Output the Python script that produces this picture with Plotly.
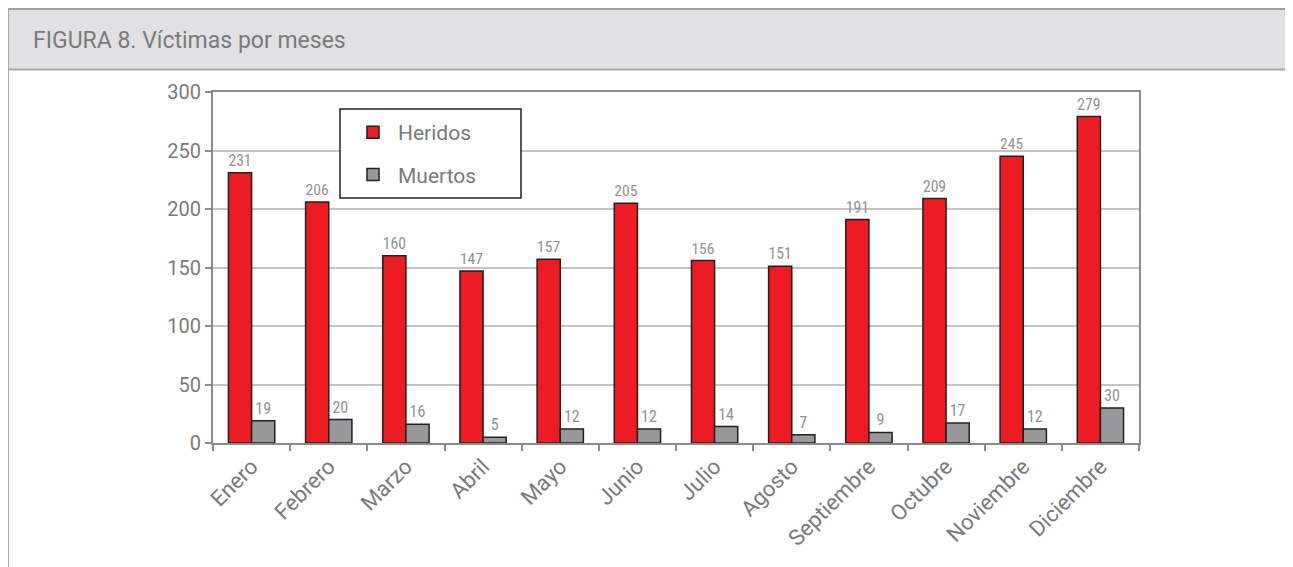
import plotly.graph_objects as go

months = ["Enero", "Febrero", "Marzo", "Abril", "Mayo", "Junio", "Julio",
          "Agosto", "Septiembre", "Octubre", "Noviembre", "Diciembre"]
heridos = [231, 206, 160, 147, 157, 205, 156, 151, 191, 209, 245, 279]
muertos = [19, 20, 16, 5, 12, 12, 14, 7, 9, 17, 12, 30]

W, H = 1293, 567
OFF = 8  # page body margin
# plot-area edges in screenshot pixels
L, R, T, B = 213, 1139, 92, 443


def px(x):
    return (x - L) / (R - L)


def py(y):
    return (B - y) / (B - T)


label_font = dict(family="Liberation Sans Narrow, Roboto Condensed, Roboto, sans-serif",
                  size=16, color="#929292")
ytick_font = dict(family="Roboto, DejaVu Sans, sans-serif", size=20, color="#7a7a7a")
xtick_font = dict(family="Roboto, DejaVu Sans, sans-serif", size=22, color="#7a7a7a")

fig = go.Figure()
fig.add_trace(go.Bar(
    x=months, y=heridos, name="Heridos", legendgroup="h",
    marker=dict(color="#ed1c24", line=dict(color="#231f20", width=1.5)),
    text=heridos, textposition="outside", textfont=label_font, cliponaxis=False,
))
fig.add_trace(go.Bar(
    x=months, y=muertos, name="Muertos", legendgroup="m",
    marker=dict(color="#98989c", line=dict(color="#231f20", width=1.5)),
    text=muertos, textposition="outside", textfont=label_font, cliponaxis=False,
))

line_col = "#8c8c8c"
shapes = [
    dict(type="rect", xref="paper", yref="paper", x0=px(7), x1=px(1292), y0=py(70), y1=py(8),
         fillcolor="#e1e1e3", line=dict(width=0), layer="below"),
    dict(type="line", xref="paper", yref="paper", x0=px(7), x1=px(1292), y0=py(9), y1=py(9),
         line=dict(color="#a0a0a0", width=2)),
    dict(type="line", xref="paper", yref="paper", x0=px(7), x1=px(1292), y0=py(69.5), y1=py(69.5),
         line=dict(color="#a8a8a8", width=2)),
    dict(type="line", xref="paper", yref="paper", x0=px(8), x1=px(8), y0=py(8), y1=py(570),
         line=dict(color="#a8a8a8", width=2)),
    dict(type="line", xref="paper", yref="paper", x0=px(1291.5), x1=px(1291.5), y0=py(8), y1=py(570),
         line=dict(color="#d6d6d6", width=1)),
    # legend frame
    dict(type="rect", xref="paper", yref="paper", x0=px(340), x1=px(521), y0=py(198), y1=py(109),
         fillcolor="white", line=dict(color="#231f20", width=1.5), layer="above"),
]

fig.update_layout(
    width=W, height=H,
    margin=dict(l=L - OFF, r=W - (R - OFF), t=T - OFF, b=H - (B - OFF), autoexpand=False),
    paper_bgcolor="white", plot_bgcolor="white",
    barmode="group", bargap=0.4, bargroupgap=0,
    showlegend=True,
    legend=dict(
        x=px(348), y=py(112), xanchor="left", yanchor="top",
        borderwidth=0, bgcolor="rgba(0,0,0,0)",
        font=dict(family="Roboto, DejaVu Sans, sans-serif", size=21, color="#7a7a7a"),
        traceorder="grouped", tracegroupgap=12,
        itemwidth=40,
    ),
    shapes=shapes,
    annotations=[dict(
        text="FIGURA 8. Víctimas por meses", xref="paper", yref="paper",
        x=px(31), y=py(40), xanchor="left", yanchor="middle", showarrow=False,
        font=dict(family="Roboto, DejaVu Sans, sans-serif", size=23, color="#7a7a7a"),
    )],
    xaxis=dict(
        type="category", tickangle=-45, tickfont=xtick_font,
        tickson="boundaries", ticks="outside", ticklen=6, tickwidth=2, tickcolor=line_col,
        showline=True, linecolor=line_col, linewidth=2, mirror=True,
        showgrid=False,
    ),
    yaxis=dict(
        range=[0, 300], dtick=50, tickfont=ytick_font,
        ticks="outside", ticklen=6, tickwidth=2, tickcolor=line_col,
        showline=True, linecolor=line_col, linewidth=2, mirror=True,
        showgrid=True, gridcolor="#c4c4c8", gridwidth=2, zeroline=False,
    ),
)

fig.write_html("out.html")
